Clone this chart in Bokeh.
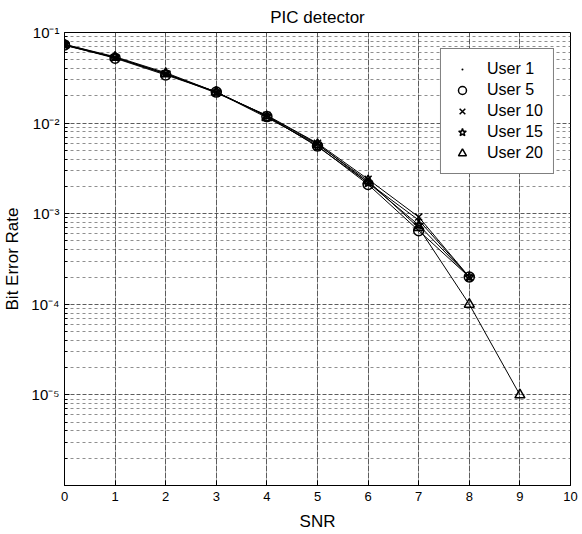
from bokeh.plotting import figure
from bokeh.models import FixedTicker, CustomJSTickFormatter, Range1d, Legend, LegendItem
from bokeh.embed import file_html
from bokeh.resources import INLINE

# ---- data ----
snr = [0, 1, 2, 3, 4, 5, 6, 7, 8, 9]
ber_user1 = [0.074, 0.053, 0.035, 0.022, 0.0120, 0.0059, 0.0022, 0.00085, 0.00020]
ber_user5 = [0.073, 0.052, 0.034, 0.022, 0.0118, 0.0056, 0.0021, 0.00065, 0.00020]
ber_user10 = [0.072, 0.053, 0.035, 0.0215, 0.0122, 0.0060, 0.0024, 0.00092, 0.00020]
ber_user15 = [0.074, 0.054, 0.036, 0.022, 0.0120, 0.0055, 0.0022, 0.00075, 0.00020]
ber_user20 = [0.073, 0.053, 0.035, 0.022, 0.0115, 0.0058, 0.0023, 0.00070, 0.00010, 0.00001]
labels = ["User 1", "User 5", "User 10", "User 15", "User 20"]
series = [ber_user1, ber_user5, ber_user10, ber_user15, ber_user20]
markers = ["dot", "circle", "x", "star", "triangle"]
x_ticks = list(range(0, 11))
y_decades = [-6, -5, -4, -3, -2, -1]

FONT = "Liberation Sans"

p = figure(width=582, height=534, y_axis_type="log",
           x_range=Range1d(0, 10), y_range=Range1d(10.0 ** y_decades[0], 10.0 ** y_decades[-1]),
           output_backend="svg", toolbar_location=None,
           title="PIC detector",
           min_border_left=60, min_border_right=12, min_border_top=30, min_border_bottom=49)

p.background_fill_color = "white"
p.border_fill_color = "white"
p.outline_line_color = "black"
p.outline_line_width = 1

p.title.align = "center"
p.title.text_font = FONT
p.title.text_font_size = "17px"
p.title.text_font_style = "normal"
p.title.text_color = "black"
p.title.standoff = 11

major_y = [10.0 ** e for e in y_decades[1:]]
minor_y = [k * 10.0 ** e for e in y_decades[:-1] for k in range(2, 10)]
p.yaxis.ticker = FixedTicker(ticks=major_y, minor_ticks=minor_y)
p.yaxis.formatter = CustomJSTickFormatter(code="""
const e = Math.round(Math.log10(tick));
const sup = {"-":"\u207b","0":"\u2070","1":"\u00b9","2":"\u00b2","3":"\u00b3","4":"\u2074","5":"\u2075","6":"\u2076","7":"\u2077","8":"\u2078","9":"\u2079"};
return "10" + String(e).split("").map(c => sup[c]).join("");
""")
p.xaxis.ticker = FixedTicker(ticks=x_ticks)

for ax in (p.xaxis, p.yaxis):
    ax.axis_line_color = "black"
    ax.major_tick_in = 5
    ax.major_tick_out = 0
    ax.minor_tick_in = 3
    ax.minor_tick_out = 0
    ax.major_tick_line_color = "black"
    ax.minor_tick_line_color = "black"
    ax.major_label_text_font = FONT
    ax.major_label_text_font_size = "13px"
    ax.major_label_text_color = "black"
    ax.axis_label_text_font = FONT
    ax.axis_label_text_font_size = "17px"
    ax.axis_label_text_font_style = "normal"
    ax.axis_label_text_color = "black"

p.yaxis.major_label_text_font_size = "15px"
p.xaxis.axis_label = "SNR"
p.yaxis.axis_label = "Bit Error Rate"
p.xaxis.major_label_standoff = 6
p.xaxis.axis_label_standoff = 8
p.yaxis.axis_label_standoff = 6

p.xgrid.grid_line_color = "#333333"
p.xgrid.grid_line_alpha = 0.8
p.xgrid.grid_line_dash = "6 1"
p.ygrid.grid_line_color = "#333333"
p.ygrid.grid_line_alpha = 0.8
p.ygrid.grid_line_dash = "4 2"
p.ygrid.minor_grid_line_color = "#444444"
p.ygrid.minor_grid_line_alpha = 0.6
p.ygrid.minor_grid_line_dash = "3 3"

items = []
for lab, vals, mk in zip(labels, series, markers):
    xs = snr[:len(vals)]
    ln = p.line(xs, vals, line_color="black", line_width=1)
    sc = p.scatter(xs, vals, marker=mk, size=10 if mk != "dot" else 14,
                   line_color="black", fill_color=None, line_width=1.5)
    items.append(LegendItem(label=lab, renderers=[sc]))

legend = Legend(items=items, location="top_right")
legend.label_text_font = FONT
legend.label_text_font_size = "16px"
legend.label_text_color = "black"
legend.border_line_color = "black"
legend.border_line_width = 1
legend.background_fill_color = "white"
legend.background_fill_alpha = 1
legend.margin = 16
legend.padding = 10
legend.spacing = 1
legend.glyph_width = 22
legend.label_standoff = 14
p.add_layout(legend)

open("out.html", "w").write(file_html(p, INLINE))
